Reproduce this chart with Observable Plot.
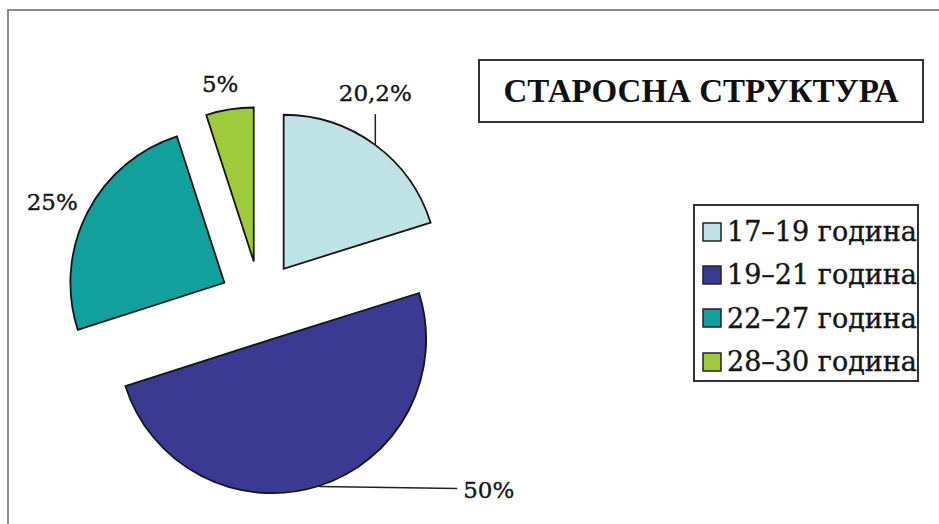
<!DOCTYPE html>
<html><head><meta charset="utf-8">
<script src="https://cdn.jsdelivr.net/npm/d3@7"></script>
<script src="https://cdn.jsdelivr.net/npm/@observablehq/plot@0.6"></script>
<style>
html,body{margin:0;padding:0;background:#fff;}
#page{position:relative;width:939px;height:524px;overflow:hidden;background:#fff;}
#frame{position:absolute;left:7px;top:9px;right:-10px;bottom:-10px;border-top:2px solid #8c8c8c;border-left:2px solid #8c8c8c;}
#chart{position:absolute;left:0;top:0;}
#chart svg text{font-family:"DejaVu Serif",serif !important;}
#title{position:absolute;left:478px;top:59px;width:446px;height:64px;box-sizing:border-box;border:2px solid #333;display:flex;align-items:center;justify-content:center;font-family:"Liberation Serif",serif;font-weight:bold;font-size:33px;color:#111;}
#legend{position:absolute;left:693px;top:204px;width:226px;height:178px;box-sizing:border-box;border:2px solid #333;padding:4px 0 0 8px;background:#fff;}
.lg-swatches{margin:0 !important;font-family:"DejaVu Serif",serif;font-size:27px;color:#161616;-webkit-text-stroke:0.4px #161616;}
.lg-swatch{height:43.3px;display:flex;align-items:center;padding:0 !important;}
.lg-swatch > svg{margin-right:6px !important;}
.lg-swatch rect{stroke:#222;stroke-width:1.5px;}
</style></head><body>
<div id="page"><div id="frame"></div><div id="chart"></div><div id="title">СТАРОСНА СТРУКТУРА</div><div id="legend"></div></div>
<script>
// ---- data ----
const ages = ["17–19 година", "19–21 година", "22–27 година", "28–30 година"];
const shares = [20.2, 50, 25, 5];
const shareLabels = ["20,2%", "50%", "25%", "5%"];
const sliceColors = ["#bfe2e6", "#3a3a92", "#12a09c", "#9dcb3c"];

// ---- layout ----
const W = 939, H = 524;
const CX = 260, CY = 301, R = 154, EXPLODE = 40;
const labelPlacement = [
  {dx: 0, dy: -51, anchor: "middle", leader: [0, -31]},
  {dx: 144, dy: 4, anchor: "start", leader: [138, 2]},
  {dx: -10, dy: -10, anchor: "end", leader: null},
  {dx: -10, dy: -25, anchor: "middle", leader: null}
];

const slices = ages.map((age, i) => ({age, share: shares[i], label: shareLabels[i]}));
const pieLayout = d3.pie().value(d => d.share).sort(null)(slices);
const labels = pieLayout.map((a, i) => {
  const mid = (a.startAngle + a.endAngle) / 2;
  const px = CX + (R + EXPLODE) * Math.sin(mid);
  const py = CY - (R + EXPLODE) * Math.cos(mid);
  const p = labelPlacement[i];
  return {
    label: a.data.label, x: px + p.dx, y: py + p.dy, anchor: p.anchor,
    x1: px, y1: py,
    x2: p.leader ? px + p.leader[0] : null, y2: p.leader ? py + p.leader[1] : null
  };
});

const colorScale = {type: "ordinal", domain: ages, range: sliceColors};

const chart = Plot.plot({
  width: W, height: H, margin: 0,
  x: {type: "identity", axis: null},
  y: {type: "identity", axis: null},
  color: colorScale,
  style: {background: "transparent", overflow: "visible", fontFamily: "DejaVu Serif"},
  marks: [
    Plot.dot(slices, {
      x: () => CX, y: () => CY, fill: "age",
      render(index, scales, values) {
        const g = d3.create("svg:g");
        const arcs = d3.pie().value(i => slices[i].share).sort(null)(index);
        const arc = d3.arc().innerRadius(0).outerRadius(R);
        for (const a of arcs) {
          const i = a.data, mid = (a.startAngle + a.endAngle) / 2;
          const ox = values.x[i] + EXPLODE * Math.sin(mid);
          const oy = values.y[i] - EXPLODE * Math.cos(mid);
          g.append("path").attr("d", arc(a))
            .attr("transform", `translate(${ox},${oy})`)
            .attr("fill", values.fill[i])
            .attr("stroke", "#151515").attr("stroke-width", 1.8)
            .attr("stroke-linejoin", "miter");
        }
        return g.node();
      }
    }),
    Plot.link(labels.filter(d => d.x2 != null), {
      x1: "x1", y1: "y1", x2: "x2", y2: "y2", stroke: "#222", strokeWidth: 1.5
    }),
    ...["start", "middle", "end"].map(anchor => Plot.text(labels, {
      filter: d => d.anchor === anchor,
      x: "x", y: "y", text: "label", textAnchor: anchor,
      fontSize: 23, fontFamily: "DejaVu Serif", fill: "#161616",
      stroke: "#161616", strokeWidth: 0.4
    }))
  ]
});
document.getElementById("chart").appendChild(chart);

const legend = Plot.legend({
  color: colorScale, legend: "swatches", columns: 1, swatchSize: 18, className: "lg"
});
document.getElementById("legend").appendChild(legend);
</script>
</body></html>
